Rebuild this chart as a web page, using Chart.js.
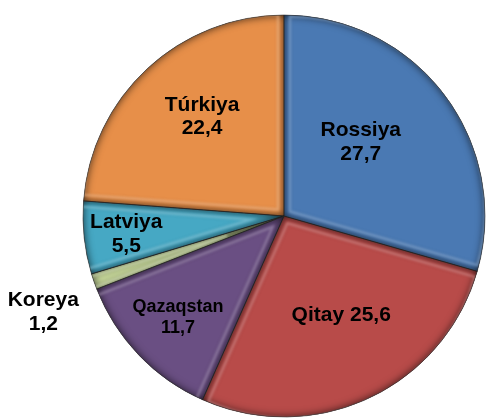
<!DOCTYPE html>
<html>
<head>
<meta charset="utf-8">
<script src="https://cdn.jsdelivr.net/npm/chart.js@4"></script>
<style>
  html, body { margin: 0; padding: 0; background: #fff; }
  #wrap { width: 486px; height: 419px; }
</style>
</head>
<body>
<div id="wrap"><canvas id="pieChart" width="486" height="419"></canvas></div>
<script>
// --- Data ---
const countries = ['Rossiya', 'Qitay', 'Qazaqstan', 'Koreya', 'Latviya', 'Túrkiya'];
const shares = [27.7, 25.6, 11.7, 1.2, 5.5, 22.4];
const sliceColors = ['#4a79b3', '#b84b49', '#6a4f83', '#c8d99b', '#46a8c4', '#e78f49'];

// label look: which ones go on one line, how far out along the bisector
const oneLineLabels = ['Qitay'];
const labelRadius = [0.53, 0.57, 0.73, 1.29, 0.79, 0.64];
const labelAngleShift = [-6.9, -4.9, 0, -2.8, -0.3, 3.3]; // degrees
const labelSize = [21, 21, 18, 21, 21, 21];

const fmt = v => v.toFixed(1).replace('.', ',');

// small helper: make a color darker / lighter
function shade(hex, amt) {
    const n = parseInt(hex.slice(1), 16);
    let r = (n >> 16) & 255, g = (n >> 8) & 255, b = n & 255;
    const f = c => Math.max(0, Math.min(255, Math.round(amt < 0 ? c * (1 + amt) : c + (255 - c) * amt)));
    return `rgb(${f(r)},${f(g)},${f(b)})`;
}

function wedgePath(ctx, x, y, r, a0, a1) {
    ctx.beginPath();
    ctx.moveTo(x, y);
    ctx.arc(x, y, r, a0, a1);
    ctx.closePath();
}

// --- Bevel look on each slice ---
const bevelPlugin = {
    id: 'bevel',
    afterDatasetsDraw(chart) {
        const ctx = chart.ctx;
        const meta = chart.getDatasetMeta(0);
        meta.data.forEach((arc, i) => {
            const { x, y, startAngle, endAngle, outerRadius } = arc.getProps(['x', 'y', 'startAngle', 'endAngle', 'outerRadius'], true);
            ctx.save();
            wedgePath(ctx, x, y, outerRadius, startAngle, endAngle);
            ctx.clip();

            // inner shadow along the edges
            ctx.beginPath();
            ctx.rect(-1000, -1000, 3000, 3000);
            ctx.moveTo(x, y);
            ctx.arc(x, y, outerRadius, startAngle, endAngle);
            ctx.closePath();
            ctx.shadowColor = 'rgba(0,0,0,0.75)';
            ctx.shadowBlur = 9;
            ctx.fillStyle = '#000';
            ctx.fill('evenodd');
            ctx.shadowBlur = 0;

            // soft light highlight a bit inside the rim
            const mid = (startAngle + endAngle) / 2;
            const d = 6;
            const half = (endAngle - startAngle) / 2;
            const shift = d / Math.max(Math.sin(Math.min(half, Math.PI / 2)), 0.05);
            const cx = x + Math.cos(mid) * Math.min(shift, outerRadius * 0.3);
            const cy = y + Math.sin(mid) * Math.min(shift, outerRadius * 0.3);
            wedgePath(ctx, cx, cy, outerRadius - d, startAngle, endAngle);
            ctx.strokeStyle = shade(sliceColors[i], 0.35);
            ctx.globalAlpha = 0.6;
            ctx.lineWidth = 2.5;
            ctx.filter = 'blur(1.2px)';
            ctx.stroke();
            ctx.restore();

            // thin dark outline
            ctx.save();
            wedgePath(ctx, x, y, outerRadius, startAngle, endAngle);
            ctx.strokeStyle = 'rgba(40,40,40,0.55)';
            ctx.lineWidth = 1;
            ctx.stroke();
            ctx.restore();
        });
    }
};

// --- Text labels on the slices ---
const labelPlugin = {
    id: 'sliceLabels',
    afterDraw(chart) {
        const ctx = chart.ctx;
        const meta = chart.getDatasetMeta(0);
        ctx.save();
        ctx.fillStyle = '#000';
        ctx.textAlign = 'center';
        ctx.textBaseline = 'middle';
        meta.data.forEach((arc, i) => {
            const { x, y, startAngle, endAngle, outerRadius } = arc.getProps(['x', 'y', 'startAngle', 'endAngle', 'outerRadius'], true);
            const mid = (startAngle + endAngle) / 2 + labelAngleShift[i] * Math.PI / 180;
            const px = x + Math.cos(mid) * outerRadius * labelRadius[i];
            const py = y + Math.sin(mid) * outerRadius * labelRadius[i];
            const size = labelSize[i];
            ctx.font = `bold ${size}px "Liberation Sans", Arial, sans-serif`;
            const name = countries[i];
            const val = fmt(shares[i]);
            if (oneLineLabels.includes(name)) {
                ctx.fillText(name + ' ' + val, px, py);
            } else {
                const lh = size * 1.13;
                ctx.fillText(name, px, py - lh / 2);
                ctx.fillText(val, px, py + lh / 2);
            }
        });
        ctx.restore();
    }
};

new Chart(document.getElementById('pieChart'), {
    type: 'pie',
    data: {
        labels: countries,
        datasets: [{
            data: shares,
            backgroundColor: sliceColors,
            borderWidth: 0,
            hoverOffset: 0
        }]
    },
    options: {
        responsive: false,
        animation: false,
        radius: 201,
        layout: { padding: { left: 82, right: 0, top: 13, bottom: 0 } },
        plugins: {
            legend: { display: false },
            tooltip: { enabled: false }
        }
    },
    plugins: [bevelPlugin, labelPlugin]
});
</script>
</body>
</html>
